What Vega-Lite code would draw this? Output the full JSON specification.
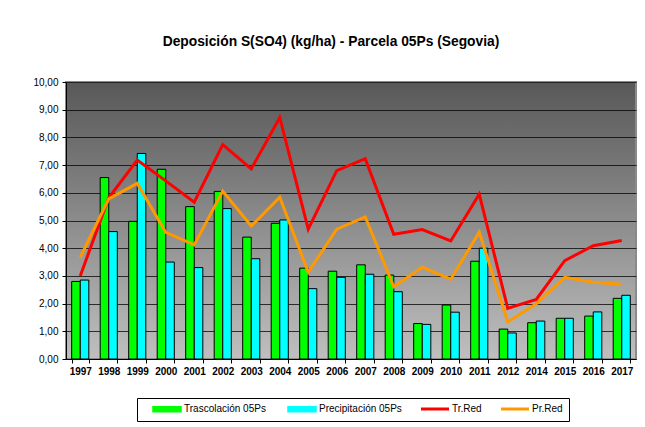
{
  "$schema": "https://vega.github.io/schema/vega-lite/v6.json",
  "width": 570,
  "height": 277,
  "autosize": "none",
  "padding": {"left": 66, "top": 82, "right": 9, "bottom": 68},
  "background": "white",
  "title": {
    "text": "Deposición S(SO4) (kg/ha) - Parcela 05Ps (Segovia)",
    "font": "Liberation Sans",
    "fontSize": 13.8,
    "fontWeight": "bold",
    "color": "black",
    "anchor": "middle",
    "dx": -20,
    "offset": 28
  },
  "config": {
    "font": "Liberation Sans",
    "view": {
      "stroke": "#8a8a8a",
      "strokeWidth": 2,
      "fill": {"gradient": "linear", "x1": 0, "y1": 0, "x2": 0, "y2": 1, "stops": [{"offset": 0, "color": "#585858"}, {"offset": 1, "color": "#bfbfbf"}]}
    }
  },
  "data": {
    "values": [
      {"year": "1997", "serie": "Trascolación  05Ps", "v": 2.8},
      {"year": "1998", "serie": "Trascolación  05Ps", "v": 6.55},
      {"year": "1999", "serie": "Trascolación  05Ps", "v": 4.97},
      {"year": "2000", "serie": "Trascolación  05Ps", "v": 6.85},
      {"year": "2001", "serie": "Trascolación  05Ps", "v": 5.5},
      {"year": "2002", "serie": "Trascolación  05Ps", "v": 6.05},
      {"year": "2003", "serie": "Trascolación  05Ps", "v": 4.4},
      {"year": "2004", "serie": "Trascolación  05Ps", "v": 4.9},
      {"year": "2005", "serie": "Trascolación  05Ps", "v": 3.28},
      {"year": "2006", "serie": "Trascolación  05Ps", "v": 3.17},
      {"year": "2007", "serie": "Trascolación  05Ps", "v": 3.4},
      {"year": "2008", "serie": "Trascolación  05Ps", "v": 3.03},
      {"year": "2009", "serie": "Trascolación  05Ps", "v": 1.28},
      {"year": "2010", "serie": "Trascolación  05Ps", "v": 1.95},
      {"year": "2011", "serie": "Trascolación  05Ps", "v": 3.53},
      {"year": "2012", "serie": "Trascolación  05Ps", "v": 1.08},
      {"year": "2014", "serie": "Trascolación  05Ps", "v": 1.31},
      {"year": "2015", "serie": "Trascolación  05Ps", "v": 1.47},
      {"year": "2016", "serie": "Trascolación  05Ps", "v": 1.55},
      {"year": "2017", "serie": "Trascolación  05Ps", "v": 2.19},
      {"year": "1997", "serie": "Precipitación 05Ps", "v": 2.85},
      {"year": "1998", "serie": "Precipitación 05Ps", "v": 4.6},
      {"year": "1999", "serie": "Precipitación 05Ps", "v": 7.42},
      {"year": "2000", "serie": "Precipitación 05Ps", "v": 3.5},
      {"year": "2001", "serie": "Precipitación 05Ps", "v": 3.3},
      {"year": "2002", "serie": "Precipitación 05Ps", "v": 5.43},
      {"year": "2003", "serie": "Precipitación 05Ps", "v": 3.62},
      {"year": "2004", "serie": "Precipitación 05Ps", "v": 5.02},
      {"year": "2005", "serie": "Precipitación 05Ps", "v": 2.54},
      {"year": "2006", "serie": "Precipitación 05Ps", "v": 2.95},
      {"year": "2007", "serie": "Precipitación 05Ps", "v": 3.06},
      {"year": "2008", "serie": "Precipitación 05Ps", "v": 2.43},
      {"year": "2009", "serie": "Precipitación 05Ps", "v": 1.25},
      {"year": "2010", "serie": "Precipitación 05Ps", "v": 1.69},
      {"year": "2011", "serie": "Precipitación 05Ps", "v": 4.0},
      {"year": "2012", "serie": "Precipitación 05Ps", "v": 0.94},
      {"year": "2014", "serie": "Precipitación 05Ps", "v": 1.37},
      {"year": "2015", "serie": "Precipitación 05Ps", "v": 1.47},
      {"year": "2016", "serie": "Precipitación 05Ps", "v": 1.7},
      {"year": "2017", "serie": "Precipitación 05Ps", "v": 2.3},
      {"year": "1997", "serie": "Tr.Red", "v": 3.0},
      {"year": "1998", "serie": "Tr.Red", "v": 5.82},
      {"year": "1999", "serie": "Tr.Red", "v": 7.18},
      {"year": "2000", "serie": "Tr.Red", "v": 6.43},
      {"year": "2001", "serie": "Tr.Red", "v": 5.66},
      {"year": "2002", "serie": "Tr.Red", "v": 7.74},
      {"year": "2003", "serie": "Tr.Red", "v": 6.86},
      {"year": "2004", "serie": "Tr.Red", "v": 8.72},
      {"year": "2005", "serie": "Tr.Red", "v": 4.69},
      {"year": "2006", "serie": "Tr.Red", "v": 6.8},
      {"year": "2007", "serie": "Tr.Red", "v": 7.23},
      {"year": "2008", "serie": "Tr.Red", "v": 4.5},
      {"year": "2009", "serie": "Tr.Red", "v": 4.67},
      {"year": "2010", "serie": "Tr.Red", "v": 4.26},
      {"year": "2011", "serie": "Tr.Red", "v": 5.95},
      {"year": "2012", "serie": "Tr.Red", "v": 1.83},
      {"year": "2014", "serie": "Tr.Red", "v": 2.15},
      {"year": "2015", "serie": "Tr.Red", "v": 3.55},
      {"year": "2016", "serie": "Tr.Red", "v": 4.09},
      {"year": "2017", "serie": "Tr.Red", "v": 4.28},
      {"year": "1997", "serie": "Pr.Red", "v": 3.67},
      {"year": "1998", "serie": "Pr.Red", "v": 5.78},
      {"year": "1999", "serie": "Pr.Red", "v": 6.34},
      {"year": "2000", "serie": "Pr.Red", "v": 4.57},
      {"year": "2001", "serie": "Pr.Red", "v": 4.12},
      {"year": "2002", "serie": "Pr.Red", "v": 6.06},
      {"year": "2003", "serie": "Pr.Red", "v": 4.8},
      {"year": "2004", "serie": "Pr.Red", "v": 5.84},
      {"year": "2005", "serie": "Pr.Red", "v": 3.13},
      {"year": "2006", "serie": "Pr.Red", "v": 4.69},
      {"year": "2007", "serie": "Pr.Red", "v": 5.13},
      {"year": "2008", "serie": "Pr.Red", "v": 2.61},
      {"year": "2009", "serie": "Pr.Red", "v": 3.31},
      {"year": "2010", "serie": "Pr.Red", "v": 2.88},
      {"year": "2011", "serie": "Pr.Red", "v": 4.58},
      {"year": "2012", "serie": "Pr.Red", "v": 1.34},
      {"year": "2014", "serie": "Pr.Red", "v": 1.99},
      {"year": "2015", "serie": "Pr.Red", "v": 2.95},
      {"year": "2016", "serie": "Pr.Red", "v": 2.77},
      {"year": "2017", "serie": "Pr.Red", "v": 2.7}
    ]
  },
  "encoding": {
    "x": {
      "field": "year",
      "type": "nominal",
      "sort": null,
      "scale": {"paddingInner": 0.4, "paddingOuter": 0.2},
      "axis": {
        "title": null,
        "labelAngle": 0,
        "labelFont": "Liberation Sans",
        "labelFontSize": 10,
        "labelFontWeight": "bold",
        "labelColor": "black",
        "labelPadding": 3,
        "domainColor": "black",
        "tickColor": "black",
        "tickBand": "extent",
        "tickSize": 4
      }
    },
    "y": {
      "field": "v",
      "type": "quantitative",
      "scale": {"domain": [0, 10], "nice": false},
      "axis": {
        "title": null,
        "values": [0, 1, 2, 3, 4, 5, 6, 7, 8, 9, 10],
        "labelExpr": "replace(format(datum.value, '.2f'), '.', ',')",
        "labelFont": "Liberation Sans",
        "labelFontSize": 10,
        "labelColor": "black",
        "labelPadding": 4,
        "domainColor": "black",
        "tickColor": "black",
        "tickSize": 4,
        "grid": true,
        "gridColor": "black",
        "gridOpacity": 0.75
      }
    },
    "color": {
      "field": "serie",
      "type": "nominal",
      "scale": {"domain": ["Trascolación  05Ps", "Precipitación 05Ps", "Tr.Red", "Pr.Red"], "range": ["#00ff00", "#00ffff", "#ff0000", "#ff9900"]},
      "legend": {
        "orient": "none",
        "legendX": 71,
        "legendY": 316,
        "direction": "horizontal",
        "columns": 4,
        "title": null,
        "strokeColor": "black",
        "padding": 6,
        "labelFont": "Liberation Sans",
        "labelFontSize": 10,
        "labelColor": "black",
        "labelOffset": 12,
        "columnPadding": 9,
        "symbolSize": 196,
        "symbolOffset": 19,
        "symbolType": "M-2,-0.35H2V0.35H-2Z",
        "encode": {
          "symbols": {
            "update": {
              "shape": {"signal": "(datum.value === 'Tr.Red' || datum.value === 'Pr.Red') ? 'M-2,0H2' : 'M-2,-0.35H2V0.35H-2Z'"},
              "fill": {"signal": "(datum.value === 'Tr.Red' || datum.value === 'Pr.Red') ? 'transparent' : scale('color', datum.value)"},
              "stroke": {"signal": "(datum.value === 'Tr.Red' || datum.value === 'Pr.Red') ? scale('color', datum.value) : 'black'"},
              "strokeWidth": {"signal": "(datum.value === 'Tr.Red' || datum.value === 'Pr.Red') ? 3 : 1.5"},
              "opacity": {"value": 1}
            }
          }
        }
      }
    }
  },
  "layer": [
    {
      "transform": [{"filter": "datum.serie === 'Trascolación  05Ps' || datum.serie === 'Precipitación 05Ps'"}],
      "mark": {"type": "bar", "stroke": "black", "strokeWidth": 1},
      "encoding": {
        "xOffset": {"field": "serie", "type": "nominal", "sort": ["Trascolación  05Ps", "Precipitación 05Ps"], "scale": {"paddingInner": 0, "paddingOuter": 0}}
      }
    },
    {
      "transform": [{"filter": "datum.serie === 'Tr.Red' || datum.serie === 'Pr.Red'"}],
      "mark": {"type": "line", "strokeWidth": 3},
      "encoding": {}
    }
  ]
}
